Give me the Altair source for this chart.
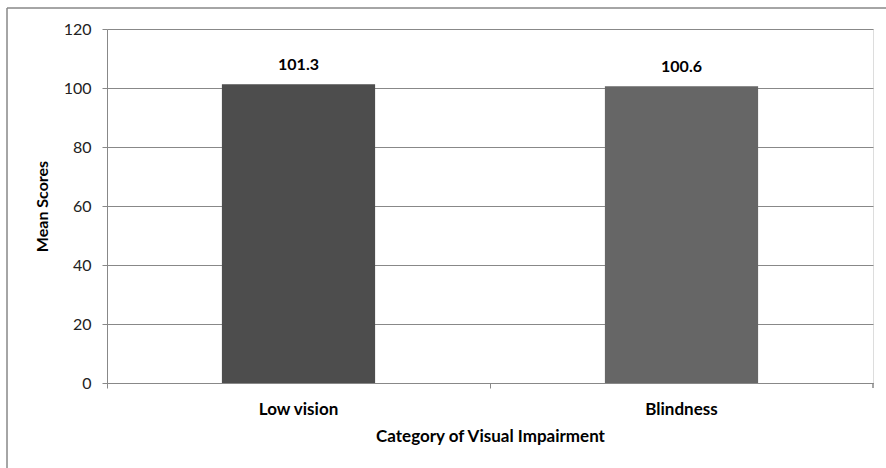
import altair as alt
import pandas as pd

categories = ["Low vision", "Blindness"]
values = [101.3, 100.6]
colors = ["#4d4d4d", "#666666"]

df = pd.DataFrame({"cat": categories, "val": values, "label": [f"{v:.1f}" for v in values]})

FONT = "Lato"

x = alt.X("cat:N", sort=categories, title="Category of Visual Impairment",
          scale=alt.Scale(paddingInner=0, paddingOuter=0),
          axis=alt.Axis(labelAngle=0, labelFontSize=17, labelFontWeight="bold", labelColor="#000",
                        labelPadding=13, titleFontSize=17, titleFontWeight="bold", titlePadding=11,
                        titleColor="#000", domainColor="#888", tickColor="#888", tickSize=5,
                        bandPosition=0, grid=False, labelFont=FONT, titleFont=FONT))
y = alt.Y("val:Q", title="Mean Scores", scale=alt.Scale(domain=[0, 120]),
          axis=alt.Axis(values=[0, 20, 40, 60, 80, 100, 120], labelFontSize=16, labelColor="#222",
                        labelPadding=11, tickSize=5, tickColor="#888", domainColor="#888",
                        gridColor="#888", gridWidth=1, titleFontSize=16, titleFontWeight="bold",
                        titleColor="#000", titlePadding=13, labelFont=FONT, titleFont=FONT))

bars = alt.Chart(df).mark_bar(width=alt.RelativeBandSize(0.4)).encode(
    x=x, y=y,
    color=alt.Color("cat:N", scale=alt.Scale(domain=categories, range=colors), legend=None),
)
text = alt.Chart(df).mark_text(dy=-19, fontSize=16, fontWeight="bold", font=FONT, color="#000").encode(
    x=alt.X("cat:N", sort=categories), y="val:Q", text="label:N"
)

end_tick = alt.Chart(df).mark_rule(color="#888", strokeWidth=1).encode(
    x=alt.value(766), y=alt.value(354), y2=alt.value(359))
border_top = alt.Chart(df).mark_rule(color="#888", strokeWidth=1).encode(
    x=alt.value(-100), x2=alt.value(780), y=alt.value(-21))
border_left = alt.Chart(df).mark_rule(color="#888", strokeWidth=1).encode(
    x=alt.value(-100), y=alt.value(-21), y2=alt.value(460))

chart = alt.layer(bars, text, end_tick, border_top, border_left).properties(
    width=766, height=354,
    autosize=alt.AutoSizeParams(type="none"),
    padding={"left": 107, "top": 29, "right": 13, "bottom": 85},
).configure_view(stroke=None).configure(background="white")

chart.save("out.html", embed_options={"renderer": "svg", "actions": False})
